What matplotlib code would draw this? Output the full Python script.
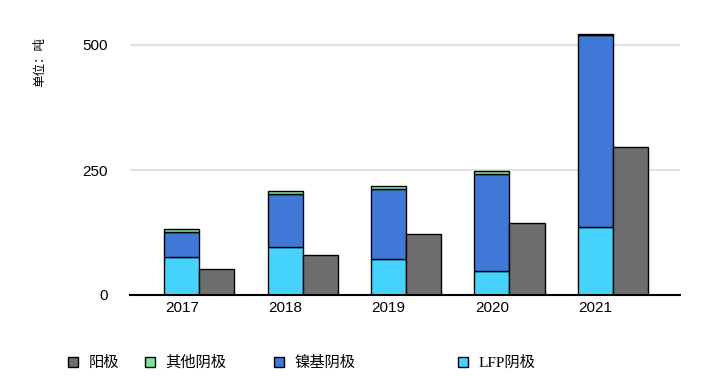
import matplotlib
matplotlib.use("Agg")
import matplotlib.pyplot as plt
from matplotlib.patches import Patch
import numpy as np

years = ["2017", "2018", "2019", "2020", "2021"]
lfp = [77, 97, 73, 48, 137]
nickel = [50, 106, 140, 194, 384]
other = [6, 5, 6, 7, 2]
anode = [53, 81, 123, 145, 297]
yticks = [0, 250, 500]

c_lfp = "#45D3FC"
c_ni = "#3F78D6"
c_other = "#7BE39A"
c_anode = "#6E6E6E"

fig = plt.figure(figsize=(7.2, 3.9), dpi=100)
ax = fig.add_axes([130/720, 1-295/390, 550/720, 280/390])

x = np.arange(len(years))
w = 0.34
kw = dict(edgecolor="black", linewidth=1.0, zorder=3)
ax.bar(x, lfp, w, color=c_lfp, **kw)
ax.bar(x, nickel, w, bottom=lfp, color=c_ni, **kw)
b2 = np.array(lfp) + np.array(nickel)
ax.bar(x, other, w, bottom=b2, color=c_other, **kw)
ax.bar(x + w, anode, w, color=c_anode, **kw)

ax.set_xlim(-0.5, 4.82)
ax.set_ylim(0, 560)
ax.set_yticks(yticks)
ax.set_yticklabels([str(v) for v in yticks], family="Liberation Sans", fontsize=11)
ax.set_xticks(x)
ax.set_xticklabels(years, family="Liberation Sans", fontsize=11)
ax.tick_params(axis="both", length=0)
ax.tick_params(axis="y", pad=16)
ax.tick_params(axis="x", pad=4)
for s in ["top", "right", "left"]:
    ax.spines[s].set_visible(False)
ax.spines["bottom"].set_linewidth(1.5)
ax.spines["bottom"].set_zorder(4)
for v in [250, 500]:
    ax.axhline(v, color="#e2e2e2", linewidth=1.5, zorder=1)

fig.text(40/720, 1-62/390, "单位：吨", rotation=90, ha="center", va="center",
         family=["Noto Sans CJK SC", "DejaVu Sans"], fontsize=9)

items = [("阳极", c_anode, 68), ("其他阴极", c_other, 145), ("镍基阴极", c_ni, 274), ("LFP阴极", c_lfp, 458)]
for label, col, px in items:
    h = [Patch(facecolor=col, edgecolor="black", linewidth=1.0)]
    fig.legend(h, [label], loc="center left", bbox_to_anchor=(px/720, 1-363/390),
               frameon=False, handlelength=0.65, handleheight=0.65, handletextpad=0.7,
               borderpad=0, borderaxespad=0,
               prop={"family": ["Liberation Serif", "Noto Sans CJK SC"], "size": 11})

fig.savefig("out.png", dpi=100)
